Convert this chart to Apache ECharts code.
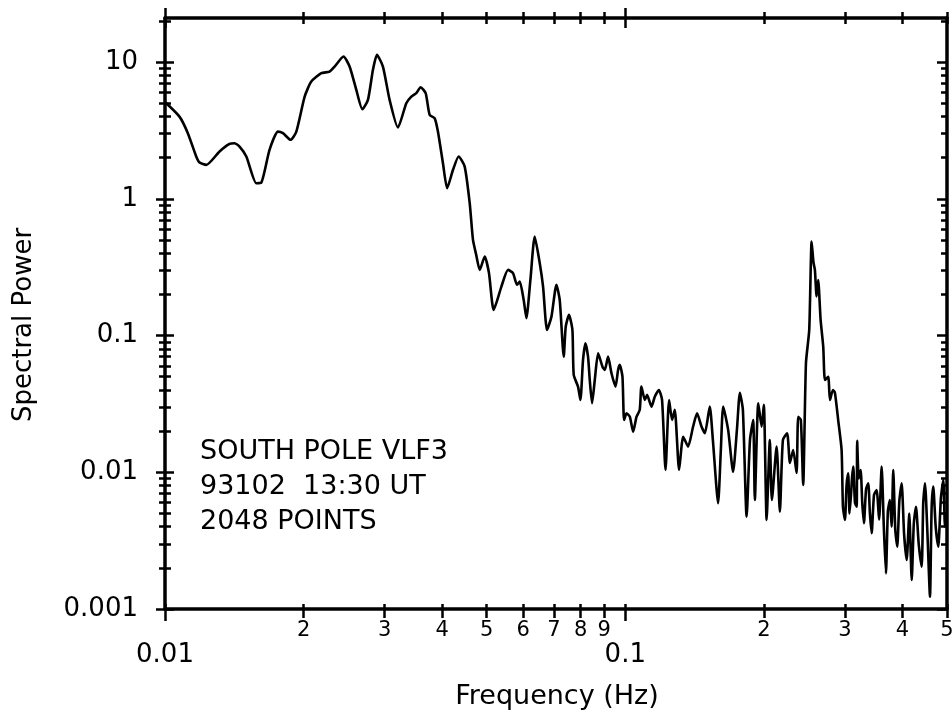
<!DOCTYPE html>
<html>
<head>
<meta charset="utf-8">
<title>Spectral Power</title>
<script src="https://cdn.jsdelivr.net/npm/echarts@6.0.0/dist/echarts.min.js"></script>
<style>
  html, body { margin: 0; padding: 0; background: #fff; }
  #chart { width: 952px; height: 710px; }
</style>
</head>
<body>
<div id="chart"></div>
<script>
var freq = [
    0.0100, 0.01075, 0.01121, 0.01169, 0.01189, 0.01229, 0.01314, 0.01381, 0.01416, 0.01452,
    0.01502, 0.01579, 0.01618, 0.01687, 0.01759, 0.01804, 0.01874, 0.01929, 0.02011, 0.02079,
    0.02186, 0.02278, 0.02336, 0.02443, 0.02518, 0.02604, 0.02684, 0.02760, 0.02830, 0.02887,
    0.02975, 0.03076, 0.03207, 0.03344, 0.03429, 0.03516, 0.03592, 0.03684, 0.03758, 0.03853,
    0.03917, 0.04017, 0.04102, 0.04224, 0.04345, 0.04478, 0.04592, 0.04668, 0.04744, 0.04828,
    0.04950, 0.05057, 0.05177, 0.05381, 0.05562, 0.05702, 0.05818, 0.05897, 0.06016, 0.06098,
    0.06221, 0.06357, 0.06519, 0.06628, 0.06761, 0.06912, 0.07086, 0.07204, 0.07350, 0.07424,
    0.07546, 0.07676, 0.07727, 0.07894, 0.07990, 0.08095, 0.08193, 0.08300, 0.08372, 0.08469,
    0.08585, 0.08729, 0.08922, 0.09025, 0.09175, 0.09333, 0.09522, 0.09646, 0.09728, 0.09860,
    0.09940, 0.1006, 0.1023, 0.1040, 0.1058, 0.1075, 0.1084, 0.1103, 0.1115, 0.1140,
    0.1159, 0.1183, 0.1202, 0.1223, 0.1245, 0.1264, 0.1281, 0.1309, 0.1336, 0.1369,
    0.1404, 0.1432, 0.1464, 0.1489, 0.1526, 0.1550, 0.1591, 0.1613, 0.1632, 0.1673,
    0.1715, 0.1748, 0.1774, 0.1801, 0.1835, 0.1866, 0.1896, 0.1912, 0.1945, 0.1978,
    0.2000, 0.2028, 0.2061, 0.2082, 0.2132, 0.2167, 0.2200, 0.2247, 0.2279, 0.2316,
    0.2356, 0.2375, 0.2407, 0.2435, 0.2469, 0.2510, 0.2540, 0.2563, 0.2582, 0.2604,
    0.2625, 0.2657, 0.2692, 0.2715, 0.2760, 0.2784, 0.2826, 0.2854, 0.2901, 0.2951,
    0.2971, 0.3001, 0.3025, 0.3050, 0.3070, 0.3093, 0.3110, 0.3128, 0.3155, 0.3182,
    0.3190, 0.3215, 0.3246, 0.3272, 0.3300, 0.3335, 0.3372, 0.3400, 0.3430, 0.3470,
    0.3516, 0.3560, 0.3606, 0.3645, 0.3684, 0.3720, 0.3758, 0.3790, 0.3821, 0.3860,
    0.3898, 0.3940, 0.3985, 0.4035, 0.4087, 0.4140, 0.4191, 0.4235, 0.4281, 0.4340,
    0.4405, 0.4440, 0.4479, 0.4535, 0.4592, 0.4630, 0.4668, 0.4725, 0.4786, 0.4850,
    0.4908, 0.4950, 0.4992
];
var power = [
    5.1, 3.99, 3.02, 2.04, 1.84, 1.77, 2.22, 2.52, 2.55, 2.41,
    2.04, 1.30, 1.31, 2.28, 3.10, 3.02, 2.70, 3.10, 5.59, 7.20,
    8.29, 8.52, 9.27, 10.97, 9.27, 6.26, 4.52, 5.29, 8.77, 11.29,
    9.27, 5.29, 3.32, 5.0, 5.59, 5.92, 6.55, 5.92, 4.11, 3.89,
    3.10, 1.82, 1.195, 1.63, 2.04, 1.72, 0.929, 0.50, 0.389, 0.302,
    0.378, 0.286, 0.154, 0.228, 0.302, 0.286, 0.235, 0.248, 0.182, 0.134,
    0.255, 0.529, 0.338, 0.228, 0.110, 0.1375, 0.235, 0.182, 0.0701, 0.1162,
    0.1415, 0.110, 0.0515, 0.0423, 0.0338, 0.0663, 0.0878, 0.0701, 0.0473, 0.0320,
    0.0473, 0.0742, 0.0592, 0.0560, 0.0701, 0.0530, 0.0423, 0.0560, 0.0610, 0.0500,
    0.0241, 0.0270, 0.0255, 0.0198, 0.0255, 0.0286, 0.0423, 0.0338, 0.0368, 0.0302,
    0.0357, 0.0400, 0.0338, 0.0104, 0.0338, 0.0241, 0.0286, 0.0104, 0.0182, 0.0154,
    0.0216, 0.0270, 0.0216, 0.0193, 0.0302, 0.0172, 0.00593, 0.01456, 0.0302, 0.0204,
    0.01005, 0.0204, 0.0382, 0.0286, 0.00473, 0.0172, 0.0241, 0.00627, 0.0320, 0.0216,
    0.0311, 0.00448, 0.0172, 0.00627, 0.0154, 0.00515, 0.0172, 0.0193, 0.0117, 0.01456,
    0.00988, 0.0255, 0.0241, 0.00808, 0.0627, 0.110, 0.486, 0.345, 0.302, 0.193,
    0.255, 0.130, 0.0829, 0.0473, 0.0500, 0.0338, 0.0400, 0.0382, 0.0241, 0.01456,
    0.00560, 0.00448, 0.0080, 0.00983, 0.0050, 0.00682, 0.0092, 0.0110, 0.0060, 0.0056,
    0.0170, 0.0090, 0.0104, 0.0060, 0.00424, 0.0075, 0.00831, 0.0050, 0.00358, 0.0068,
    0.00742, 0.0045, 0.0110, 0.0040, 0.00182, 0.0052, 0.00627, 0.0040, 0.0104, 0.0038,
    0.00286, 0.0062, 0.00831, 0.0035, 0.00228, 0.0050, 0.00163, 0.0042, 0.0056, 0.0030,
    0.00204, 0.0060, 0.00831, 0.0035, 0.00123, 0.0055, 0.00785, 0.0040, 0.00286, 0.0065,
    0.00878, 0.0040, 0.00501
];

var xMajorTicks = [0.01, 0.1];
var xMinorTicks = [0.02, 0.03, 0.04, 0.05, 0.06, 0.07, 0.08, 0.09, 0.2, 0.3, 0.4, 0.5];
var yMajorTicks = [0.001, 0.01, 0.1, 1, 10];
var yMinorTicks = [
    0.002, 0.003, 0.004, 0.005, 0.006, 0.007, 0.008, 0.009,
    0.02, 0.03, 0.04, 0.05, 0.06, 0.07, 0.08, 0.09,
    0.2, 0.3, 0.4, 0.5, 0.6, 0.7, 0.8, 0.9,
    2, 3, 4, 5, 6, 7, 8, 9, 20
];
var annotation = ['SOUTH POLE VLF3', '93102  13:30 UT', '2048 POINTS'];
var xTitle = 'Frequency (Hz)';
var yTitle = 'Spectral Power';

var FONT = 'DejaVu Sans';
var X_RANGE = [0.01, 0.5];
var Y_RANGE = [0.001, 21];

// one log axis; several are stacked on each side to get crossing major/minor ticks
function logAxis(range, position, o) {
    return {
        type: 'log',
        logBase: 10,
        position: position,
        min: range[0],
        max: range[1],
        axisLine: { show: !!o.line, onZero: false, lineStyle: { color: '#000', width: 3.5 } },
        axisTick: {
            show: !!o.ticks,
            customValues: o.ticks,
            inside: !!o.inside,
            length: o.len || 6,
            lineStyle: { color: '#000', width: 2.5 }
        },
        axisLabel: o.labels ? {
            show: true,
            customValues: o.labels,
            color: '#000',
            fontFamily: FONT,
            fontSize: o.fontSize,
            margin: o.margin,
            formatter: o.formatter
        } : { show: false },
        splitLine: { show: false },
        minorTick: { show: false },
        minorSplitLine: { show: false }
    };
}

function plain(v) { return String(v); }
function digit(v) {
    var d = Math.pow(10, Math.floor(Math.log10(v) + 1e-9));
    return String(Math.round(v / d));
}

var chart = echarts.init(document.getElementById('chart'));

var option = {
    animation: false,
    backgroundColor: '#fff',
    grid: { left: 165, right: 5, top: 18, bottom: 101, outerBoundsMode: 'none' },
    xAxis: [
        logAxis(X_RANGE, 'bottom', { line: true, ticks: xMajorTicks, len: 12, labels: xMajorTicks, fontSize: 26, margin: 33, formatter: plain }),
        logAxis(X_RANGE, 'bottom', { ticks: xMinorTicks, len: 9, labels: xMinorTicks, fontSize: 21, margin: 11, formatter: digit }),
        logAxis(X_RANGE, 'bottom', { ticks: xMajorTicks.concat(xMinorTicks), inside: true, len: 5 }),
        logAxis(X_RANGE, 'top', { line: true, ticks: xMinorTicks, len: 6 }),
        logAxis(X_RANGE, 'top', { ticks: xMinorTicks, inside: true, len: 6 }),
        logAxis(X_RANGE, 'top', { ticks: xMajorTicks, len: 10 }),
        logAxis(X_RANGE, 'top', { ticks: xMajorTicks, inside: true, len: 10 })
    ],
    yAxis: [
        logAxis(Y_RANGE, 'left', { line: true, ticks: yMajorTicks, len: 9, labels: yMajorTicks, fontSize: 26, margin: 27, formatter: plain }),
        logAxis(Y_RANGE, 'left', { ticks: yMajorTicks, inside: true, len: 9 }),
        logAxis(Y_RANGE, 'left', { ticks: yMinorTicks, len: 6 }),
        logAxis(Y_RANGE, 'left', { ticks: yMinorTicks, inside: true, len: 6 }),
        logAxis(Y_RANGE, 'right', { line: true, ticks: yMajorTicks, inside: true, len: 10 }),
        logAxis(Y_RANGE, 'right', { ticks: yMinorTicks, inside: true, len: 6 })
    ],
    graphic: [
        {
            type: 'text',
            x: 24,
            y: 325,
            rotation: Math.PI / 2,
            style: { text: yTitle, fill: '#000', font: '26px "' + FONT + '"', align: 'center', verticalAlign: 'middle' }
        },
        {
            type: 'text',
            x: 557,
            y: 697,
            style: { text: xTitle, fill: '#000', font: '27px "' + FONT + '"', align: 'center', verticalAlign: 'middle' }
        },
        {
            type: 'text',
            x: 200,
            y: 434,
            style: { text: annotation.join('\n'), fill: '#000', font: '27px "' + FONT + '"', lineHeight: 35, align: 'left', verticalAlign: 'top' }
        }
    ],
    series: [
        {
            type: 'line',
            xAxisIndex: 0,
            yAxisIndex: 0,
            showSymbol: false,
            smooth: 0.2,
            lineStyle: { color: '#000', width: 2.6 },
            data: freq.map(function (f, i) { return [f, power[i]]; })
        }
    ]
};

chart.setOption(option);
</script>
</body>
</html>
